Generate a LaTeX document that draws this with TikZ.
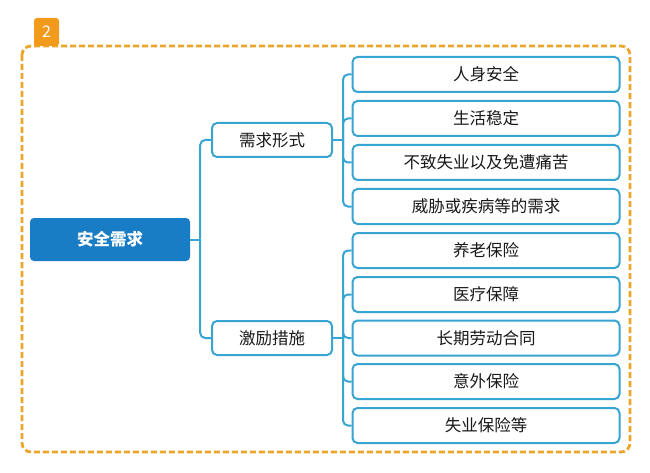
\documentclass[tikz,border=0pt]{standalone}
\usepackage{fontspec}
\usetikzlibrary{calc}
\newfontfamily\cjk{Noto Sans CJK SC}
\definecolor{frameor}{RGB}{234,166,42}
\definecolor{badgeor}{RGB}{242,154,27}
\definecolor{rootblue}{RGB}{24,125,196}
\definecolor{linkblue}{RGB}{56,164,210}
\definecolor{txt}{RGB}{25,25,25}
\tikzset{
  leafbox/.style={draw=linkblue, line width=2pt, rounded corners=5pt, fill=white,
    minimum width=267pt, minimum height=35pt, inner sep=0pt, font=\cjk\fontsize{16.5}{18}\selectfont, text=txt},
  midbox/.style={draw=linkblue, line width=2pt, rounded corners=5pt, fill=white,
    minimum width=120pt, minimum height=34pt, inner sep=0pt, font=\cjk\fontsize{16.5}{18}\selectfont, text=txt},
  rootbox/.style={fill=rootblue, rounded corners=4pt, minimum width=160pt, minimum height=43pt,
    inner sep=0pt, font=\cjk\bfseries\fontsize{16.5}{18}\selectfont, text=white},
  conn/.style={draw=linkblue, line width=2pt, rounded corners=5pt},
}
\begin{document}
\begin{tikzpicture}[x=1pt,y=-1pt]
\useasboundingbox[fill=white] (0,0) rectangle (650,473);
% frame
\draw[frameor, line width=2.8pt, dash pattern=on 6pt off 3pt, rounded corners=9pt]
  (22,46) rectangle (630,452);
% badge
\fill[badgeor, rounded corners=3pt] (34,46) -- (34,18) -- (59,18) -- (59,46) [sharp corners] -- cycle;
\node[font=\cjk\fontsize{16}{17}\selectfont, text=white] (badge) at (46.5,32) {2};
% root
\node[rootbox] (root) at (110,239.5) {安全需求};
% mid
\node[midbox] (m1) at (272,140) {需求形式};
\node[midbox] (m2) at (272,338) {激励措施};
% leaves
\node[leafbox] (a1) at (486,74.5) {人身安全};
\node[leafbox] (a2) at (486,118.5) {生活稳定};
\node[leafbox] (a3) at (486,162.5) {不致失业以及免遭痛苦};
\node[leafbox] (a4) at (486,206.5) {威胁或疾病等的需求};
\node[leafbox] (b1) at (486,250.5) {养老保险};
\node[leafbox] (b2) at (486,294.5) {医疗保障};
\node[leafbox] (b3) at (486,338) {长期劳动合同};
\node[leafbox] (b4) at (486,381.5) {意外保险};
\node[leafbox] (b5) at (486,425.5) {失业保险等};
% connectors
\coordinate (j0) at ($(root.east)+(10,0)$);
\coordinate (j1) at ($(m1.east)+(10,0)$);
\coordinate (j2) at ($(m2.east)+(10,0)$);
\draw[conn] (root.east) -- (j0);
\draw[conn] (j0) |- (m1.west);
\draw[conn] (j0) |- (m2.west);
\draw[conn] (m1.east) -- (j1);
\foreach \n in {a1,a2,a3,a4} \draw[conn] (j1) |- (\n.west);
\draw[conn] (m2.east) -- (j2);
\foreach \n in {b1,b2,b3,b4,b5} \draw[conn] (j2) |- (\n.west);
\end{tikzpicture}
\end{document}
